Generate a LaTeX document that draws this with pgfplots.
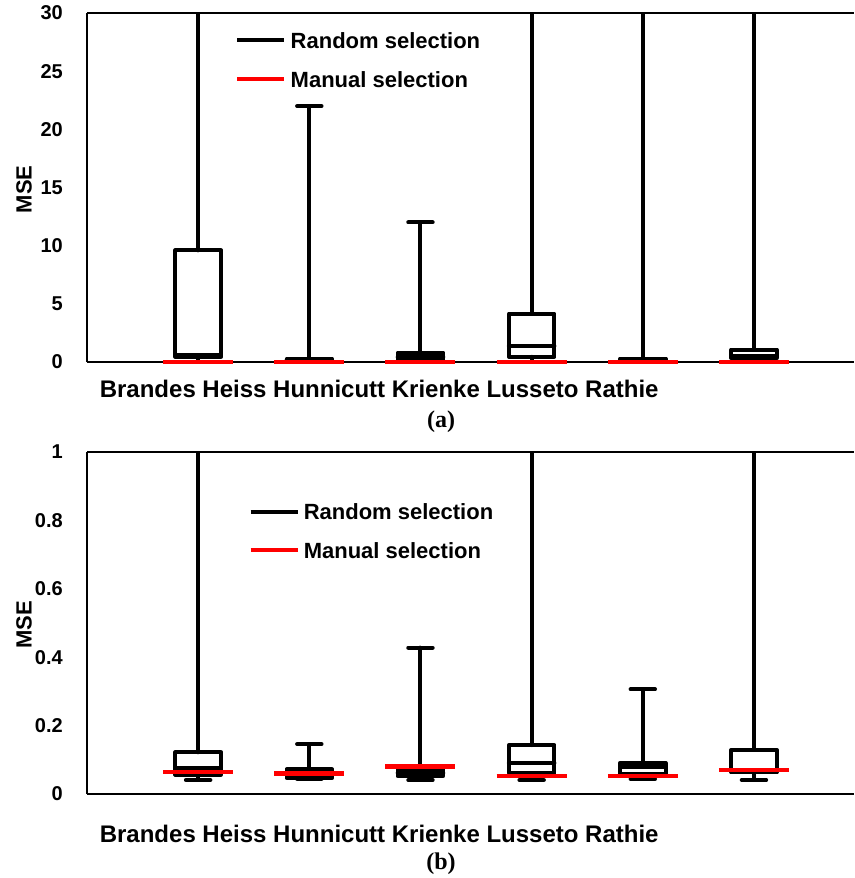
\documentclass[border=0pt]{standalone}
\usepackage{fontspec}
\setmainfont{Liberation Sans}
\newfontfamily\serifb{Liberation Serif}
\usepackage{pgfplots}
\pgfplotsset{compat=1.18}
\usepgfplotslibrary{statistics}

\pgfplotsset{
  geom/.style={
    scale only axis, width=767pt,
    xmin=0, xmax=6.9, ymin=0,
  },
  mybase/.style={
    geom,
    axis x line*=box, axis y line*=left,
    axis line style={-, black, line width=1.6pt},
    xtick=\empty,
    major tick length=0pt,
    tick style={draw=none},
    yticklabel style={font=\fontsize{20}{24}\selectfont\bfseries, anchor=east, inner sep=0pt, xshift=-24pt},
    /pgf/number format/assume math mode=true,
    ylabel={MSE},
    ylabel style={font=\fontsize{22}{26}\selectfont\bfseries, anchor=center, at={(axis description cs:-0.082,0.495)}},
    xlabel={Brandes Heiss Hunnicutt Krienke Lusseto Rathie},
    xlabel style={font=\fontsize{24}{28}\selectfont\bfseries, anchor=base},
    legend image code/.code={\draw[#1] (0pt,0pt) -- (47pt,0pt);},
    legend cell align=left,
    legend style={draw=none, fill=none, inner sep=0pt, anchor=north west,
       font=\fontsize{22}{26}\selectfont\bfseries,
       nodes={inner sep=0pt, text height=16pt, text depth=0pt},
       /tikz/every odd column/.append style={column sep=4pt}},
    boxplot/draw direction=y,
  },
  bx/.style={black, line width=4pt, line join=round, line cap=round, forget plot},
  rd/.style={red, line width=4.5pt, forget plot},
}

\begin{document}
\begin{tikzpicture}
\useasboundingbox (0pt,0pt) rectangle (854pt,-878pt);

% ---------------- panel (a) ----------------
\begin{axis}[mybase, at={(87pt,-362pt)}, anchor=south west, height=349pt,
  ymax=30, ytick={0,5,10,15,20,25,30},
  xlabel style={at={(axis description cs:0.381,-0.103)}},
  legend style={at={(axis description cs:0.193,0.946)}, row sep=23pt}]
\addplot[bx, boxplot prepared={draw position=1, lower whisker=0, lower quartile=0.45, median=0.6, upper quartile=9.6, upper whisker=45, box extend=0.41, whisker extend=0.22}] coordinates {};
\addplot[bx, boxplot prepared={draw position=2, lower whisker=0, lower quartile=0.1, median=0.15, upper quartile=0.3, upper whisker=22, box extend=0.41, whisker extend=0.22}] coordinates {};
\addplot[bx, boxplot prepared={draw position=3, lower whisker=0, lower quartile=0.2, median=0.4, upper quartile=0.8, upper whisker=12, box extend=0.41, whisker extend=0.22}] coordinates {};
\addplot[bx, boxplot prepared={draw position=4, lower whisker=0, lower quartile=0.45, median=1.4, upper quartile=4.15, upper whisker=45, box extend=0.41, whisker extend=0.22}] coordinates {};
\addplot[bx, boxplot prepared={draw position=5, lower whisker=0, lower quartile=0.1, median=0.15, upper quartile=0.3, upper whisker=45, box extend=0.41, whisker extend=0.22}] coordinates {};
\addplot[bx, boxplot prepared={draw position=6, lower whisker=0, lower quartile=0.35, median=0.5, upper quartile=1.07, upper whisker=45, box extend=0.41, whisker extend=0.22}] coordinates {};
\addlegendimage{black, line width=4pt}
\addlegendentry{Random selection}
\addlegendimage{red, line width=4.5pt}
\addlegendentry{Manual selection}
\end{axis}

\begin{axis}[geom, at={(87pt,-362pt)}, anchor=south west, height=349pt,
  ymax=30, hide axis, clip=false]
\addplot[rd] coordinates {(0.685,0) (1.315,0)};
\addplot[rd] coordinates {(1.685,0) (2.315,0)};
\addplot[rd] coordinates {(2.685,0) (3.315,0)};
\addplot[rd] coordinates {(3.685,0) (4.315,0)};
\addplot[rd] coordinates {(4.685,0) (5.315,0)};
\addplot[rd] coordinates {(5.685,0) (6.315,0)};
\end{axis}

\node[font=\serifb\bfseries\fontsize{24}{28}\selectfont] at (441pt,-422pt) {(a)};

% ---------------- panel (b) ----------------
\begin{axis}[mybase, at={(87pt,-794pt)}, anchor=south west, height=342pt,
  ymax=1, ytick={0,0.2,0.4,0.6,0.8,1},
  xlabel style={at={(axis description cs:0.381,-0.143)}},
  legend style={at={(axis description cs:0.210,0.849)}, row sep=22.3pt}]
\addplot[bx, boxplot prepared={draw position=1, lower whisker=0.041, lower quartile=0.057, median=0.076, upper quartile=0.122, upper whisker=1.5, box extend=0.41, whisker extend=0.22}] coordinates {};
\addplot[bx, boxplot prepared={draw position=2, lower whisker=0.044, lower quartile=0.047, median=0.058, upper quartile=0.072, upper whisker=0.146, box extend=0.41, whisker extend=0.22}] coordinates {};
\addplot[bx, boxplot prepared={draw position=3, lower whisker=0.041, lower quartile=0.052, median=0.062, upper quartile=0.072, upper whisker=0.428, box extend=0.41, whisker extend=0.22}] coordinates {};
\addplot[bx, boxplot prepared={draw position=4, lower whisker=0.041, lower quartile=0.061, median=0.092, upper quartile=0.143, upper whisker=1.5, box extend=0.41, whisker extend=0.22}] coordinates {};
\addplot[bx, boxplot prepared={draw position=5, lower whisker=0.044, lower quartile=0.058, median=0.079, upper quartile=0.091, upper whisker=0.306, box extend=0.41, whisker extend=0.22}] coordinates {};
\addplot[bx, boxplot prepared={draw position=6, lower whisker=0.041, lower quartile=0.063, median=0.067, upper quartile=0.129, upper whisker=1.5, box extend=0.41, whisker extend=0.22}] coordinates {};
\addplot[rd] coordinates {(0.685,0.065) (1.315,0.065)};
\addplot[rd] coordinates {(1.685,0.060) (2.315,0.060)};
\addplot[rd] coordinates {(2.685,0.080) (3.315,0.080)};
\addplot[rd] coordinates {(3.685,0.052) (4.315,0.052)};
\addplot[rd] coordinates {(4.685,0.052) (5.315,0.052)};
\addplot[rd] coordinates {(5.685,0.070) (6.315,0.070)};
\addlegendimage{black, line width=4pt}
\addlegendentry{Random selection}
\addlegendimage{red, line width=4.5pt}
\addlegendentry{Manual selection}
\end{axis}

\node[font=\serifb\bfseries\fontsize{24}{28}\selectfont] at (441pt,-864pt) {(b)};
\end{tikzpicture}
\end{document}
